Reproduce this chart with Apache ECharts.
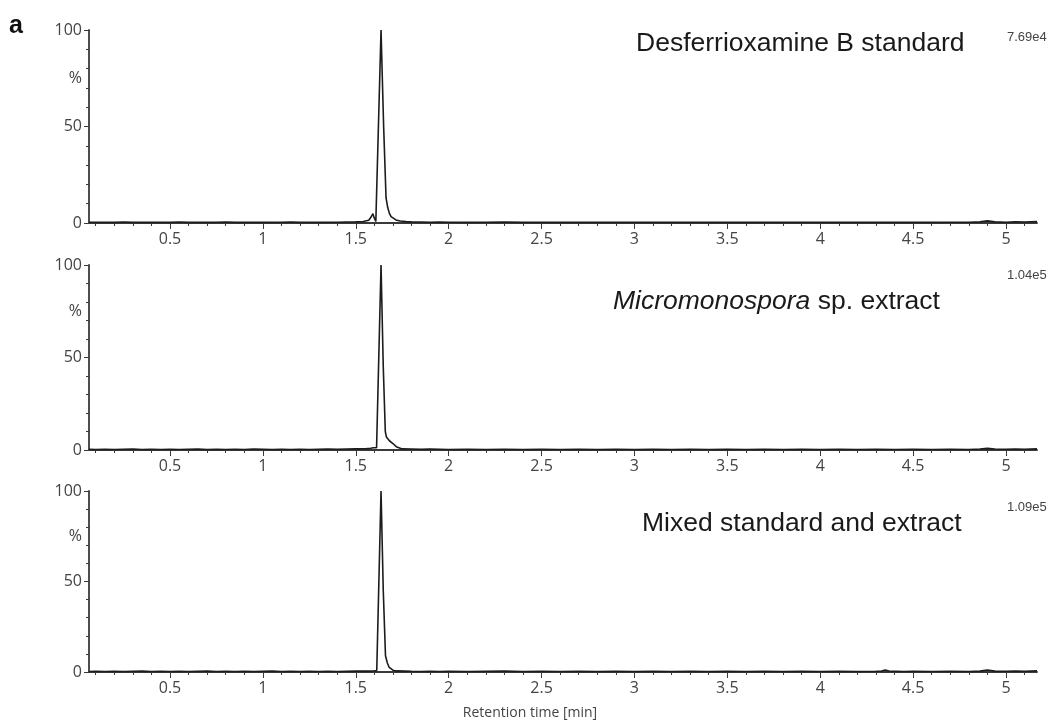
<!DOCTYPE html>
<html>
<head>
<meta charset="utf-8">
<script src="https://cdn.jsdelivr.net/npm/echarts@6/dist/echarts.min.js"></script>
<style>
  html, body { margin: 0; padding: 0; background: #fff; }
  #chart { width: 1060px; height: 724px; }
</style>
</head>
<body>
<div id="chart"></div>
<script>
// 三个色谱图面板：标准品 / 提取物 / 混合，保留时间 [min] vs 相对强度 %

const panelTitles = ['Desferrioxamine B standard', '{i|Micromonospora} sp. extract', 'Mixed standard and extract'];
const panelScales = ['7.69e4', '1.04e5', '1.09e5'];
const xLabels = [0.5, 1, 1.5, 2, 2.5, 3, 3.5, 4, 4.5, 5];
const yLabels = [0, 50, 75, 100];   // 75 处显示 "%"

// 各面板曲线 [时间, 强度%]
const traceStandard = [
  [0.064, 0.4], [0.1, 0.3], [0.15, 0.4], [0.2, 0.3], [0.25, 0.5], [0.3, 0.3], [0.35, 0.4], [0.4, 0.3],
  [0.45, 0.4], [0.5, 0.3], [0.55, 0.5], [0.6, 0.3], [0.65, 0.4], [0.7, 0.3], [0.75, 0.4], [0.8, 0.5],
  [0.85, 0.3], [0.9, 0.4], [0.95, 0.3], [1.0, 0.4], [1.05, 0.3], [1.1, 0.4], [1.15, 0.5], [1.2, 0.3],
  [1.25, 0.4], [1.3, 0.3], [1.35, 0.4], [1.4, 0.4], [1.45, 0.5], [1.5, 0.6], [1.54, 0.8], [1.57, 1.4],
  [1.585, 3.5], [1.592, 4.8], [1.6, 2.5], [1.608, 0.8], [1.616, 1.0], [1.636, 100], [1.65, 50],
  [1.663, 13], [1.672, 8], [1.681, 5], [1.69, 3.3], [1.7, 2.4], [1.72, 1.4], [1.74, 1.0], [1.77, 0.7],
  [1.8, 0.6], [1.85, 0.5], [1.9, 0.4], [1.95, 0.5], [2.0, 0.4], [2.1, 0.3], [2.2, 0.4], [2.3, 0.5],
  [2.4, 0.3], [2.5, 0.4], [2.6, 0.3], [2.7, 0.4], [2.8, 0.3], [2.9, 0.4], [3.0, 0.3], [3.1, 0.4],
  [3.2, 0.3], [3.3, 0.4], [3.4, 0.3], [3.5, 0.4], [3.6, 0.3], [3.7, 0.4], [3.8, 0.3], [3.9, 0.4],
  [4.0, 0.3], [4.1, 0.4], [4.2, 0.3], [4.3, 0.4], [4.4, 0.3], [4.5, 0.4], [4.6, 0.3], [4.7, 0.4],
  [4.8, 0.4], [4.86, 0.6], [4.9, 1.1], [4.94, 0.6], [5.0, 0.4], [5.05, 0.6], [5.1, 0.5], [5.167, 0.7]
];
const traceExtract = [
  [0.064, 0.4], [0.1, 0.3], [0.15, 0.4], [0.2, 0.3], [0.25, 0.4], [0.3, 0.5], [0.35, 0.3], [0.4, 0.4],
  [0.45, 0.3], [0.5, 0.4], [0.55, 0.3], [0.6, 0.4], [0.65, 0.5], [0.7, 0.3], [0.75, 0.4], [0.8, 0.3],
  [0.85, 0.4], [0.9, 0.3], [0.95, 0.5], [1.0, 0.4], [1.05, 0.3], [1.1, 0.4], [1.15, 0.3], [1.2, 0.4],
  [1.25, 0.3], [1.3, 0.4], [1.35, 0.5], [1.4, 0.4], [1.45, 0.5], [1.5, 0.6], [1.55, 0.7], [1.58, 0.9],
  [1.595, 1.2], [1.605, 0.8], [1.612, 1.2], [1.636, 100], [1.648, 45], [1.659, 10], [1.665, 7],
  [1.672, 6.5], [1.681, 5], [1.69, 4], [1.7, 3.5], [1.708, 3], [1.718, 1.8], [1.725, 1.1], [1.75, 0.6],
  [1.8, 0.5], [1.85, 0.4], [1.9, 0.5], [1.95, 0.4], [2.0, 0.3], [2.1, 0.4], [2.2, 0.3], [2.3, 0.4],
  [2.4, 0.3], [2.5, 0.4], [2.6, 0.3], [2.7, 0.4], [2.8, 0.3], [2.9, 0.4], [3.0, 0.3], [3.1, 0.4],
  [3.2, 0.3], [3.3, 0.4], [3.4, 0.3], [3.5, 0.4], [3.6, 0.3], [3.7, 0.4], [3.8, 0.3], [3.9, 0.4],
  [4.0, 0.3], [4.1, 0.4], [4.2, 0.3], [4.3, 0.4], [4.4, 0.3], [4.5, 0.4], [4.6, 0.3], [4.7, 0.4],
  [4.8, 0.3], [4.86, 0.5], [4.9, 0.9], [4.94, 0.5], [5.0, 0.4], [5.05, 0.5], [5.1, 0.4], [5.167, 0.6]
];
const traceMixed = [
  [0.064, 0.3], [0.1, 0.4], [0.15, 0.3], [0.2, 0.4], [0.25, 0.3], [0.3, 0.4], [0.35, 0.5], [0.4, 0.3],
  [0.45, 0.4], [0.5, 0.3], [0.55, 0.4], [0.6, 0.3], [0.65, 0.4], [0.7, 0.5], [0.75, 0.3], [0.8, 0.4],
  [0.85, 0.3], [0.9, 0.4], [0.95, 0.3], [1.0, 0.4], [1.05, 0.5], [1.1, 0.3], [1.15, 0.4], [1.2, 0.3],
  [1.25, 0.4], [1.3, 0.3], [1.35, 0.4], [1.4, 0.3], [1.45, 0.4], [1.5, 0.5], [1.55, 0.5], [1.6, 0.6],
  [1.613, 0.8], [1.636, 100], [1.648, 45], [1.66, 9], [1.67, 5], [1.68, 2.5], [1.69, 1.5], [1.7, 1.0],
  [1.72, 0.6], [1.76, 0.5], [1.8, 0.4], [1.85, 0.3], [1.9, 0.4], [1.95, 0.3], [2.0, 0.4], [2.1, 0.3],
  [2.2, 0.4], [2.3, 0.5], [2.4, 0.3], [2.5, 0.4], [2.6, 0.3], [2.7, 0.4], [2.8, 0.3], [2.9, 0.4],
  [3.0, 0.3], [3.1, 0.4], [3.2, 0.3], [3.3, 0.4], [3.4, 0.3], [3.5, 0.4], [3.6, 0.3], [3.7, 0.4],
  [3.8, 0.3], [3.9, 0.4], [4.0, 0.3], [4.1, 0.4], [4.2, 0.3], [4.3, 0.4], [4.33, 0.5], [4.35, 1.1],
  [4.37, 0.5], [4.45, 0.3], [4.5, 0.4], [4.6, 0.3], [4.7, 0.4], [4.8, 0.3], [4.86, 0.5], [4.9, 1.1],
  [4.94, 0.5], [5.0, 0.4], [5.05, 0.5], [5.1, 0.4], [5.167, 0.6]
];
const traces = [traceStandard, traceExtract, traceMixed];

// 布局（像素）
const X_MIN = 0.064, X_MAX = 5.167;
const grids = [
  { left: 89, right: 23, top: 30, height: 193, outerBoundsMode: 'none' },
  { left: 89, right: 23, top: 265, height: 185, outerBoundsMode: 'none' },
  { left: 89, right: 23, top: 491, height: 181, outerBoundsMode: 'none' },
];
const titlePos = [{ left: 636, top: 30 }, { left: 613, top: 288 }, { left: 642, top: 510 }];
const scalePos = [31, 269, 501];

const minorTicks = [];
for (let i = 1; i <= 51; i++) minorTicks.push(i / 10);

const AXIS_COLOR = '#3a3a3a';
const LABEL_FONT = '"Open Sans", "Noto Sans", sans-serif';
const TITLE_FONT = '"Liberation Sans", Arial, sans-serif';

const xAxis = [], yAxis = [], series = [];
grids.forEach((g, i) => {
  // 细刻度 + 轴线
  xAxis.push({
    type: 'value', gridIndex: i, position: 'bottom', offset: 0, min: X_MIN, max: X_MAX,
    axisLine: { show: true, onZero: false, lineStyle: { color: AXIS_COLOR, width: 1.8 } },
    axisTick: { show: true, customValues: minorTicks, length: 3, lineStyle: { color: AXIS_COLOR } },
    axisLabel: { show: false, customValues: xLabels },
    splitLine: { show: false },
  });
  // 主刻度 + 标签
  xAxis.push({
    type: 'value', gridIndex: i, position: 'bottom', offset: 0, min: X_MIN, max: X_MAX,
    axisLine: { show: false, onZero: false },
    axisTick: { show: true, customValues: xLabels, length: 6, lineStyle: { color: AXIS_COLOR } },
    axisLabel: { show: true, customValues: xLabels, color: '#444', fontSize: 16, fontFamily: LABEL_FONT, margin: 8 },
    splitLine: { show: false },
  });
  yAxis.push({
    type: 'value', gridIndex: i, position: 'left', offset: 0, min: 0, max: 100, interval: 10,
    axisLine: { show: true, onZero: false, lineStyle: { color: AXIS_COLOR, width: 1.8 } },
    axisTick: { show: true, length: 3, lineStyle: { color: AXIS_COLOR } },
    axisLabel: { show: false },
    splitLine: { show: false },
  });
  yAxis.push({
    type: 'value', gridIndex: i, position: 'left', offset: 0, min: 0, max: 100,
    axisLine: { show: false, onZero: false },
    axisTick: { show: true, customValues: [0, 50, 100], length: 5, lineStyle: { color: AXIS_COLOR } },
    axisLabel: {
      show: true, customValues: yLabels, color: '#444', fontSize: 16, fontFamily: LABEL_FONT, margin: 7,
      formatter: v => (v === 75 ? '%' : String(v)),
    },
    splitLine: { show: false },
  });
  series.push({
    type: 'line', xAxisIndex: i * 2, yAxisIndex: i * 2,
    data: traces[i], showSymbol: false, symbol: 'none', animation: false,
    lineStyle: { color: '#1c1c1c', width: 1.6 },
  });
});

const titles = [
  { text: 'a', left: 9, top: 14, padding: 0, textStyle: { fontSize: 25, fontWeight: 'bold', color: '#111', fontFamily: TITLE_FONT } },
];
panelTitles.forEach((t, i) => {
  titles.push({
    text: t, left: titlePos[i].left, top: titlePos[i].top, padding: 0,
    textStyle: {
      fontSize: 26.5, fontWeight: 'normal', color: '#1a1a1a', fontFamily: TITLE_FONT,
      rich: { i: { fontSize: 26.5, fontStyle: 'italic', color: '#1a1a1a', fontFamily: TITLE_FONT } },
    },
  });
  titles.push({
    text: panelScales[i], left: 1007, top: scalePos[i], padding: 0,
    textStyle: { fontSize: 13, fontWeight: 'normal', color: '#444', fontFamily: TITLE_FONT },
  });
});
titles.push({
  text: 'Retention time [min]', left: 'center', top: 706, padding: 0,
  textStyle: { fontSize: 14, fontWeight: 'normal', color: '#444', fontFamily: LABEL_FONT },
});

const chart = echarts.init(document.getElementById('chart'));
chart.setOption({
  animation: false,
  title: titles,
  grid: grids,
  xAxis: xAxis,
  yAxis: yAxis,
  series: series,
});
</script>
</body>
</html>
